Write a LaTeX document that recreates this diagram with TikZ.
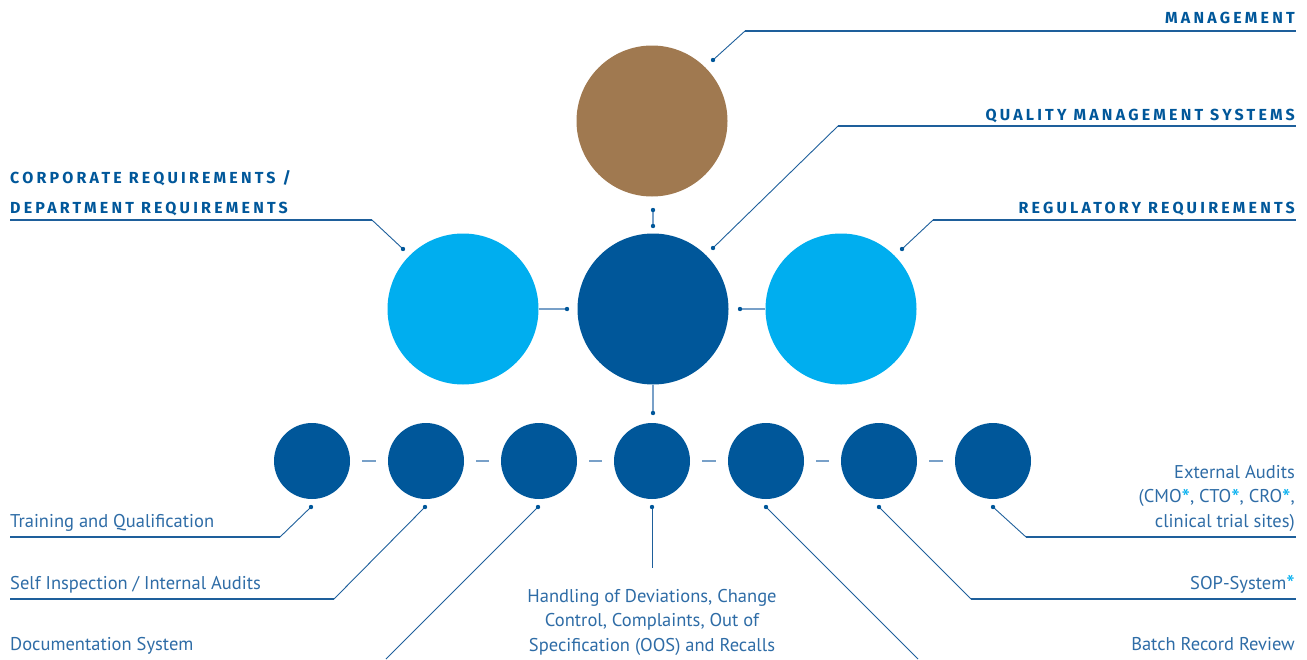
\documentclass[tikz,border=0pt]{standalone}
\usepackage{fontspec}
\setmainfont{PT Sans}
\newfontfamily\titlefont[LetterSpace=20]{Fira Sans}
\definecolor{brownc}{RGB}{160,121,80}
\definecolor{darkb}{RGB}{0,87,154}
\definecolor{lightb}{RGB}{0,174,239}
\definecolor{txtb}{RGB}{46,108,166}
\definecolor{lineb}{RGB}{30,95,155}
\definecolor{dashb}{RGB}{120,160,200}
\newcommand{\bluast}{\textcolor{lightb}{\fontsize{24}{0}\selectfont\raisebox{-3.5pt}{*}}}
\begin{document}
\begin{tikzpicture}[x=1pt,y=-1pt,
  bigc/.style={circle,minimum size=151pt,inner sep=0pt},
  smallc/.style={circle,fill=darkb,minimum size=76pt,inner sep=0pt},
  callout/.style={draw=lineb,line width=0.9pt},
  uline/.style={draw=lineb,line width=1.3pt},
  link/.style={draw=dashb,line width=1.6pt},
  title/.style={text=darkb,inner sep=0pt,font=\titlefont\bfseries\fontsize{16}{30}\selectfont},
  body/.style={text=txtb,inner sep=0pt,font=\fontsize{18.5}{24.5}\selectfont}]
\useasboundingbox (0,0) rectangle (1307,659);

% big circles
\node[bigc,fill=brownc] (M) at (652,121) {};
\node[bigc,fill=darkb] (Q) at (653,309) {};
\node[bigc,fill=lightb] (C) at (463,309) {};
\node[bigc,fill=lightb] (R) at (841,309) {};

% small circles
\foreach \i/\x in {1/312,2/426,3/539,4/652,5/766,6/879,7/993}
  \node[smallc] (s\i) at (\x,461) {};
\foreach \i/\j in {1/2,2/3,3/4,4/5,5/6,6/7}
  \draw[link,shorten <=12pt,shorten >=12pt] (s\i.east) -- (s\j.west);

% dot coordinates
\coordinate (dMa) at (653,210);
\coordinate (dMb) at (653,226);
\coordinate (dCL) at (567,309);
\coordinate (dCR) at (740,309);
\coordinate (dQB) at (653,413);
\coordinate (dMan) at (713,60);
\coordinate (dQms) at (713,248);
\coordinate (dReg) at (902,249);
\coordinate (dCor) at (403,249);
\foreach \i/\x in {1/311,2/425,3/538,4/652,5/766,6/879,7/993}
  \coordinate (b\i) at (\x,507);

% knees and ends
\coordinate (kMan) at (745,31);   \coordinate (eMan) at (1296,31);
\coordinate (kQms) at (838,126);  \coordinate (eQms) at (1296,126);
\coordinate (kReg) at (933,220);  \coordinate (eReg) at (1296,220);
\coordinate (kCor) at (372,220);  \coordinate (eCor) at (10,220);
\coordinate (k1) at (280,537);    \coordinate (e1) at (10,537);
\coordinate (k2) at (334,599);    \coordinate (e2) at (10,599);
\coordinate (k3) at (386,659);
\coordinate (k4) at (652,568);
\coordinate (k5) at (918,659);
\coordinate (k6) at (971,599);    \coordinate (e6) at (1296,599);
\coordinate (k7) at (1026,537);   \coordinate (e7) at (1296,537);

% internal connectors
\draw[link,line width=1.3pt] (dMa) -- (dMb);
\draw[link,line width=1.3pt] (C.east) -- (dCL);
\draw[link,line width=1.3pt] (R.west) -- (dCR);
\draw[link,line width=1.3pt] (Q.south) -- (dQB);

% callouts
\draw[callout] (dMan) -- (kMan); \draw[uline] (kMan) -- (eMan);
\draw[callout] (dQms) -- (kQms); \draw[uline] (kQms) -- (eQms);
\draw[callout] (dReg) -- (kReg); \draw[uline] (kReg) -- (eReg);
\draw[callout] (dCor) -- (kCor); \draw[uline] (kCor) -- (eCor);
\draw[callout] (b1) -- (k1); \draw[uline] (k1) -- (e1);
\draw[callout] (b2) -- (k2); \draw[uline] (k2) -- (e2);
\draw[callout] (b3) -- (k3);
\draw[callout] (b4) -- (k4);
\draw[callout] (b5) -- (k5);
\draw[callout] (b6) -- (k6); \draw[uline] (k6) -- (e6);
\draw[callout] (b7) -- (k7); \draw[uline] (k7) -- (e7);

% dots
\foreach \d in {dMa,dMb,dCL,dCR,dQB,dMan,dQms,dReg,dCor,b1,b2,b3,b4,b5,b6,b7}
  \fill[darkb] (\d) circle (2.2pt);

% titles
\node[title,anchor=base east] (tMan) at (1295,23) {MANAGEMENT};
\node[title,anchor=base east] (tQms) at (1295,120) {QUALITY MANAGEMENT SYSTEMS};
\node[title,anchor=base east] (tReg) at (1295,213) {REGULATORY REQUIREMENTS};
\node[title,anchor=base west] (tCor1) at (10,183) {CORPORATE REQUIREMENTS /};
\node[title,anchor=base west] (tCor2) at (10,213) {DEPARTMENT REQUIREMENTS};

% body labels
\node[body,anchor=base west] (l1) at (10,527) {Training and Qualification};
\node[body,anchor=base west] (l2) at (10,589) {Self Inspection / Internal Audits};
\node[body,anchor=base west] (l3) at (10,650) {Documentation System};
\node[body,anchor=base,align=center] (l4) at (652,651) {Handling of Deviations, Change\\Control, Complaints, Out of\\Specification (OOS) and Recalls};
\node[body,anchor=base east] (l5) at (1295,650) {Batch Record Review};
\node[body,anchor=base east] (l6) at (1295,589) {SOP-System\bluast};
\node[body,anchor=base east,align=right] (l7) at (1295,527) {External Audits\\(CMO\bluast, CTO\bluast, CRO\bluast,\\clinical trial sites)};
\end{tikzpicture}
\end{document}
